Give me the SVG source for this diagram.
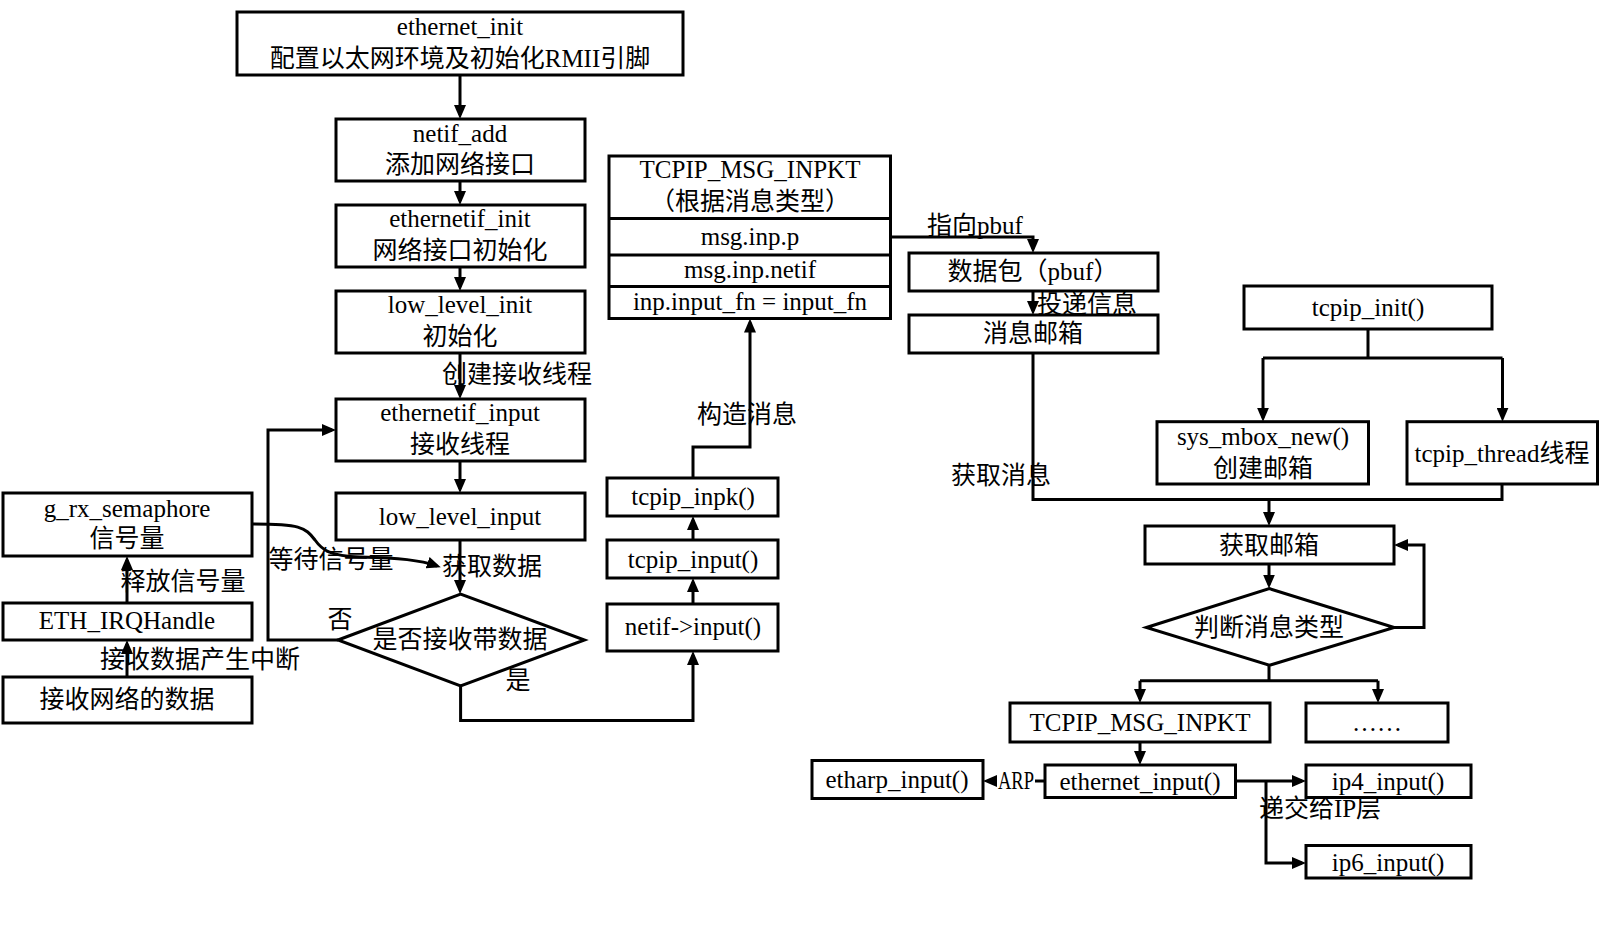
<svg xmlns="http://www.w3.org/2000/svg" width="1605" height="938" viewBox="0 0 1605 938">
<style>
.b{fill:#fff;stroke:#000;stroke-width:3}
.c{fill:none;stroke:#000;stroke-width:3}
text{font-family:"Liberation Serif","Noto Sans CJK SC",serif;font-size:25px;text-anchor:middle;fill:#000}
</style>
<defs>
<marker id="a" viewBox="0 0 14 12" refX="10" refY="6" markerWidth="14" markerHeight="12" markerUnits="userSpaceOnUse" orient="auto"><path d="M0,0 L14,6 L0,12 z" fill="#000"/></marker>
</defs>
<rect width="1605" height="938" fill="#fff"/>

<g id="connectors">
<path class="c" d="M460,75 V115" marker-end="url(#a)"/>
<path class="c" d="M460,181 V201" marker-end="url(#a)"/>
<path class="c" d="M460,267 V287" marker-end="url(#a)"/>
<path class="c" d="M460,353 V395" marker-end="url(#a)"/>
<path class="c" d="M460,461.5 V489" marker-end="url(#a)"/>
<path class="c" d="M460,540.5 V590" marker-end="url(#a)"/>
<path class="c" d="M338,640 H268 V430 H332" marker-end="url(#a)"/>
<path class="c" d="M460.6,686 V720.5 H693 V655" marker-end="url(#a)"/>
<path class="c" d="M252,524 C300,524 305,527 315,540 C322,550 330,556 360,557 C400,558 420,560 437,566" marker-end="url(#a)"/>
<path class="c" d="M127,603 V560" marker-end="url(#a)"/>
<path class="c" d="M127,677 V644" marker-end="url(#a)"/>
<path class="c" d="M693,604 V582" marker-end="url(#a)"/>
<path class="c" d="M693,540 V520" marker-end="url(#a)"/>
<path class="c" d="M693,478 V447 H750 V322.5" marker-end="url(#a)"/>
<path class="c" d="M890.5,237 H1033 V249" marker-end="url(#a)"/>
<path class="c" d="M1033,291 V311" marker-end="url(#a)"/>
<path class="c" d="M1033,353 V499.5 H1502 V484"/>
<path class="c" d="M1269,499.5 V522" marker-end="url(#a)"/>
<path class="c" d="M1368,329 V358 M1263,358 H1502.5"/>
<path class="c" d="M1263,358 V417.7" marker-end="url(#a)"/>
<path class="c" d="M1502.5,358 V417.7" marker-end="url(#a)"/>
<path class="c" d="M1269,564 V584.6" marker-end="url(#a)"/>
<path class="c" d="M1394,627.5 H1424 V545 H1398" marker-end="url(#a)"/>
<path class="c" d="M1269,665 V680.7 M1140,680.7 H1378"/>
<path class="c" d="M1140,680.7 V699" marker-end="url(#a)"/>
<path class="c" d="M1378,680.7 V699" marker-end="url(#a)"/>
<path class="c" d="M1140,742 V761" marker-end="url(#a)"/>
<path class="c" d="M1045,781 H1035"/>
<polygon points="983,781 997,775 997,787" fill="#000"/>
<path class="c" d="M1235.5,781 H1302" marker-end="url(#a)"/>
<path class="c" d="M1266,781 V863 H1302" marker-end="url(#a)"/>
<text x="1016" y="789" textLength="36" lengthAdjust="spacingAndGlyphs">ARP</text>
<text x="517" y="383">创建接收线程</text>
<text x="340" y="628">否</text>
<text x="518" y="689">是</text>
<text x="492" y="575">获取数据</text>
<text x="331" y="568">等待信号量</text>
<text x="183" y="590">释放信号量</text>
<text x="200" y="668">接收数据产生中断</text>
<text x="747" y="423">构造消息</text>
<text x="975" y="234">指向pbuf</text>
<text x="1087" y="313">投递信息</text>
<text x="1001" y="484">获取消息</text>
<text x="1320" y="817">递交给IP层</text>
</g>

<g id="ethernet_init"><rect class="b" x="237" y="12" width="446" height="63"/><text x="460" y="35">ethernet_init</text><text x="460" y="67">配置以太网环境及初始化RMII引脚</text></g>
<g id="netif_add"><rect class="b" x="336" y="119" width="249" height="62"/><text x="460" y="142">netif_add</text><text x="460" y="173">添加网络接口</text></g>
<g id="ethernetif_init"><rect class="b" x="336" y="205" width="249" height="62"/><text x="460" y="227">ethernetif_init</text><text x="460" y="259">网络接口初始化</text></g>
<g id="low_level_init"><rect class="b" x="336" y="291" width="249" height="62"/><text x="460" y="313">low_level_init</text><text x="460" y="345">初始化</text></g>
<g id="ethernetif_input"><rect class="b" x="336" y="399" width="249" height="62"/><text x="460" y="421">ethernetif_input</text><text x="460" y="453">接收线程</text></g>
<g id="low_level_input"><rect class="b" x="336" y="493" width="249" height="47"/><text x="460" y="525">low_level_input</text></g>
<g id="decision_data"><polygon class="b" points="338,640 460.6,594 584.5,640 460.6,686"/><text x="460" y="648">是否接收带数据</text></g>
<g id="g_rx_semaphore"><rect class="b" x="3" y="493" width="249" height="63"/><text x="127" y="517">g_rx_semaphore</text><text x="127" y="547">信号量</text></g>
<g id="ETH_IRQHandle"><rect class="b" x="3" y="603" width="249" height="37"/><text x="127" y="629">ETH_IRQHandle</text></g>
<g id="recv_net_data"><rect class="b" x="3" y="677" width="249" height="46"/><text x="127" y="708">接收网络的数据</text></g>

<g id="msg_table">
<rect class="b" x="609" y="156" width="281.5" height="162.5"/>
<path class="c" d="M609,218.5 H890.5 M609,255 H890.5 M609,286.5 H890.5"/>
<text x="750" y="178">TCPIP_MSG_INPKT</text>
<text x="750" y="210">（根据消息类型）</text>
<text x="750" y="245">msg.inp.p</text>
<text x="750" y="278">msg.inp.netif</text>
<text x="750" y="310">inp.input_fn = input_fn</text>
</g>
<g id="tcpip_inpk"><rect class="b" x="607" y="478" width="171" height="38"/><text x="693" y="505">tcpip_inpk()</text></g>
<g id="tcpip_input"><rect class="b" x="607" y="540" width="171" height="38"/><text x="693" y="568">tcpip_input()</text></g>
<g id="netif_input"><rect class="b" x="607" y="604" width="171" height="47"/><text x="693" y="635">netif-&gt;input()</text></g>
<g id="pbuf"><rect class="b" x="909" y="253" width="249" height="38"/><text x="1033" y="280">数据包（pbuf）</text></g>
<g id="mbox"><rect class="b" x="909" y="315" width="249" height="38"/><text x="1033" y="342">消息邮箱</text></g>

<g id="tcpip_init"><rect class="b" x="1244" y="286" width="248" height="43"/><text x="1368" y="316">tcpip_init()</text></g>
<g id="sys_mbox_new"><rect class="b" x="1157" y="421.7" width="211.5" height="62.3"/><text x="1263" y="445">sys_mbox_new()</text><text x="1263" y="477">创建邮箱</text></g>
<g id="tcpip_thread"><rect class="b" x="1407" y="421.7" width="190.5" height="62.3"/><text x="1502" y="462">tcpip_thread线程</text></g>
<g id="fetch_mbox"><rect class="b" x="1145" y="526" width="249" height="38"/><text x="1269" y="554">获取邮箱</text></g>
<g id="decision_type"><polygon class="b" points="1146.4,627.5 1269.3,588.6 1394.2,627.5 1269.3,665.3"/><text x="1269" y="636">判断消息类型</text></g>
<g id="inpkt"><rect class="b" x="1010" y="703" width="260" height="39"/><text x="1140" y="731">TCPIP_MSG_INPKT</text></g>
<g id="others"><rect class="b" x="1306" y="703" width="142" height="39"/><text x="1377" y="731">……</text></g>
<g id="ethernet_input"><rect class="b" x="1045" y="765" width="190.5" height="32.5"/><text x="1140" y="790">ethernet_input()</text></g>
<g id="etharp_input"><rect class="b" x="812" y="760.5" width="171" height="38"/><text x="897" y="788">etharp_input()</text></g>
<g id="ip4_input"><rect class="b" x="1306" y="765" width="165" height="32.5"/><text x="1388" y="790">ip4_input()</text></g>
<g id="ip6_input"><rect class="b" x="1306" y="845.5" width="165" height="32.5"/><text x="1388" y="871">ip6_input()</text></g>
</svg>
